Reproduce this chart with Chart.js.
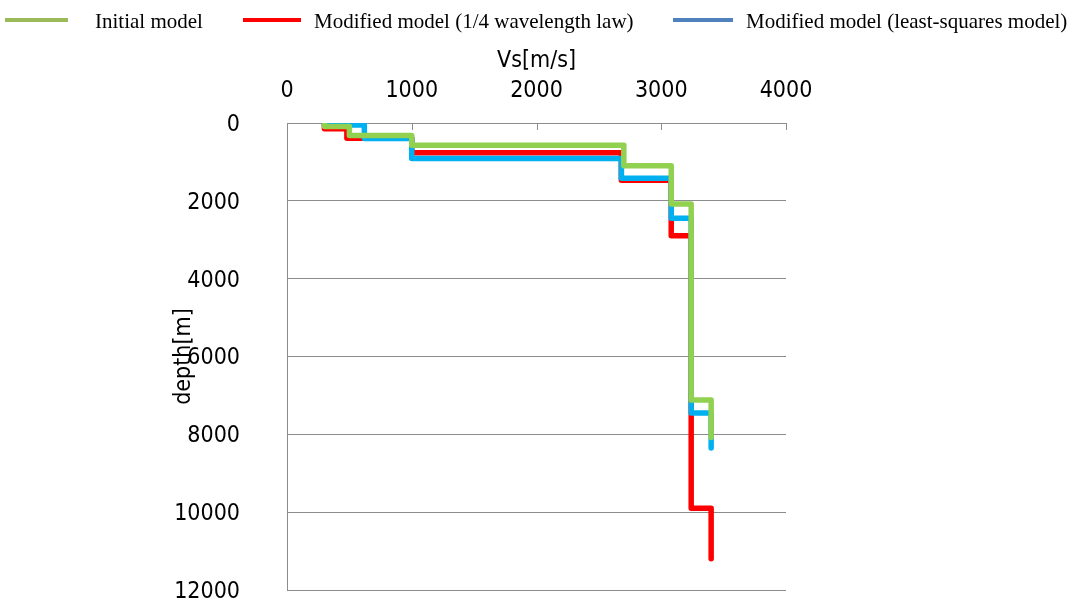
<!DOCTYPE html>
<html>
<head>
<meta charset="utf-8">
<script src="https://cdn.jsdelivr.net/npm/chart.js@4.4.1/dist/chart.umd.min.js"></script>
<style>
  html, body { margin: 0; padding: 0; background: #fff; }
  #wrap { position: relative; width: 1081px; height: 610px; overflow: hidden; }
  canvas { position: absolute; left: 0; top: 0; }
  .lg-line { position: absolute; height: 4px; top: 18px; }
  .lg-text { position: absolute; top: 8px; font-family: "Liberation Serif", "Times New Roman", serif; font-size: 21px; line-height: 26px; color: #000; white-space: nowrap; }
</style>
</head>
<body>
<div id="wrap">
  <canvas id="c" width="1081" height="610"></canvas>
  <div class="lg-line" style="left:5px;width:63px;background:#9BBB59"></div>
  <div class="lg-text" id="t0" style="left:95px"></div>
  <div class="lg-line" style="left:243px;width:58px;background:#FF0000"></div>
  <div class="lg-text" id="t1" style="left:314px"></div>
  <div class="lg-line" style="left:673px;width:60px;background:#4F81BD"></div>
  <div class="lg-text" id="t2" style="left:746px"></div>
</div>
<script>
// Series names
const seriesNames = ["Initial model", "Modified model (1/4 wavelength law)", "Modified model (least-squares model)"];
// Layer S-wave velocities (m/s) and layer bottom depths (m) for each model
const initialVs     = [300, 500, 1000, 2700, 3080, 3240, 3400];
const initialDepth  = [90, 320, 570, 1100, 2080, 7120, 8080];
const quarterVs     = [300, 480, 1000, 2680, 3080, 3240, 3400];
const quarterDepth  = [150, 390, 765, 1470, 2900, 9900, 11200];
const lsqVs         = [300, 620, 1000, 2680, 3080, 3240, 3400];
const lsqDepth      = [50, 400, 915, 1420, 2450, 7450, 8350];
// Axis ticks
const xTicks = [0, 1000, 2000, 3000, 4000];
const yTicks = [0, 2000, 4000, 6000, 8000, 10000, 12000];

function stepProfile(vs, depth) {
  const pts = [];
  let top = 0;
  for (let i = 0; i < vs.length; i++) {
    pts.push({x: vs[i], y: top});
    pts.push({x: vs[i], y: depth[i]});
    top = depth[i];
  }
  return pts;
}

document.getElementById('t0').textContent = seriesNames[0];
document.getElementById('t1').textContent = seriesNames[1];
document.getElementById('t2').textContent = seriesNames[2];

const tickFont = { family: "'DejaVu Sans Condensed', 'DejaVu Sans', sans-serif", size: 23 };
const axisColor = '#8c8c8c';

const innerTicks = {
  id: 'innerTicks',
  afterDraw(chart) {
    const ctx = chart.ctx, xs = chart.scales.x, top = chart.chartArea.top;
    ctx.save();
    ctx.strokeStyle = axisColor;
    ctx.lineWidth = 1;
    xTicks.forEach(v => {
      const px = Math.round(xs.getPixelForValue(v)) + 0.5;
      ctx.beginPath();
      ctx.moveTo(px, top);
      ctx.lineTo(px, top + 7);
      ctx.stroke();
    });
    ctx.restore();
  }
};

new Chart(document.getElementById('c'), {
  type: 'scatter',
  data: {
    datasets: [
      { label: seriesNames[0], data: stepProfile(initialVs, initialDepth), borderColor: '#92D050', backgroundColor: '#92D050' },
      { label: seriesNames[2], data: stepProfile(lsqVs, lsqDepth), borderColor: '#00B0F0', backgroundColor: '#00B0F0' },
      { label: seriesNames[1], data: stepProfile(quarterVs, quarterDepth), borderColor: '#FF0000', backgroundColor: '#FF0000' }
    ].map(d => Object.assign(d, { showLine: true, pointRadius: 0, borderWidth: 5.5, borderCapStyle: 'round', borderJoinStyle: 'round', tension: 0 }))
  },
  options: {
    responsive: false,
    animation: false,
    layout: { padding: { left: 170, right: 295, top: 0, bottom: 20 } },
    plugins: { legend: { display: false }, tooltip: { enabled: false } },
    scales: {
      x: {
        type: 'linear', position: 'top', min: 0, max: 4000,
        afterBuildTicks(s) { s.ticks = xTicks.map(v => ({ value: v })); },
        ticks: { font: tickFont, color: '#000', padding: 18, maxRotation: 0, callback: v => String(v) },
        grid: { drawOnChartArea: false, drawTicks: false },
        border: { display: true, color: axisColor, width: 1 },
        title: { display: true, text: 'Vs[m/s]', font: tickFont, color: '#000', padding: { top: 47, bottom: 0 } },
        afterFit(s) { s.height = 123; s.paddingLeft = 0; s.paddingRight = 0; }
      },
      y: {
        type: 'linear', reverse: true, min: 0, max: 12000,
        afterBuildTicks(s) { s.ticks = yTicks.map(v => ({ value: v })); },
        ticks: { font: tickFont, color: '#000', padding: 47, labelOffset: 2, callback: v => String(v) },
        grid: { color: axisColor, lineWidth: 1, drawTicks: false },
        border: { display: true, color: axisColor, width: 1 },
        title: { display: true, text: 'depth[m]', font: tickFont, color: '#000', padding: { top: 0, bottom: 0 } },
        afterFit(s) { s.width = 117; s.paddingTop = 0; s.paddingBottom = 0; }
      }
    }
  },
  plugins: [innerTicks]
});
</script>
</body>
</html>
